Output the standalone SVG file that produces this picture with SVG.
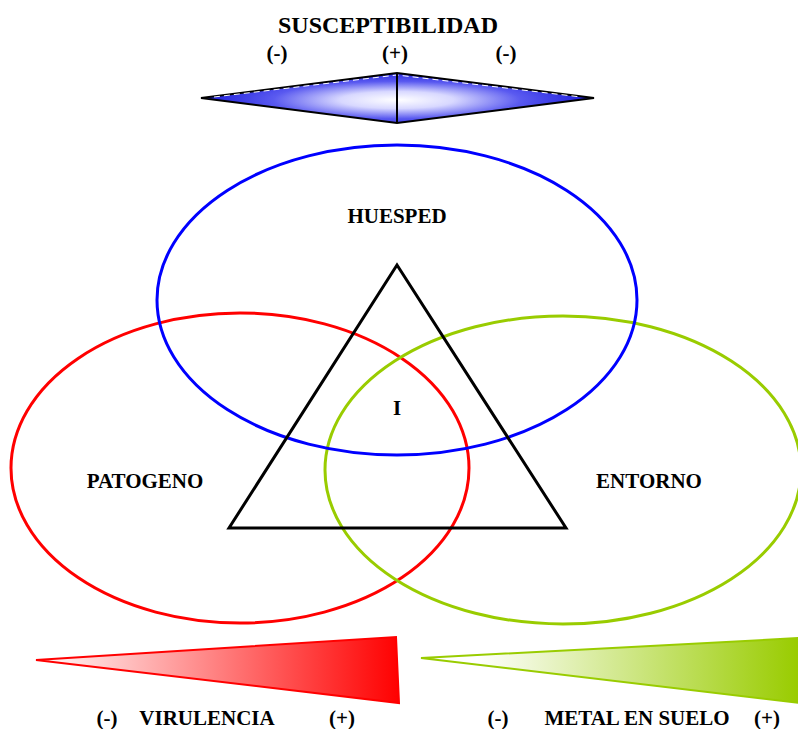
<svg xmlns="http://www.w3.org/2000/svg" width="798" height="729" viewBox="0 0 798 729">
<defs>
<radialGradient id="gBlue" cx="397" cy="100" r="190" gradientUnits="userSpaceOnUse" gradientTransform="translate(397 100) scale(1 0.15) translate(-397 -100)">
<stop offset="0" stop-color="#ffffff"/>
<stop offset="0.3" stop-color="#d8d8ff"/>
<stop offset="0.65" stop-color="#5a5af0"/>
<stop offset="1" stop-color="#2020dd"/>
</radialGradient>
<linearGradient id="gRed" x1="35" y1="0" x2="400" y2="0" gradientUnits="userSpaceOnUse">
<stop offset="0" stop-color="#ffffff"/>
<stop offset="1" stop-color="#ff0000"/>
</linearGradient>
<linearGradient id="gGreen" x1="420" y1="0" x2="798" y2="0" gradientUnits="userSpaceOnUse">
<stop offset="0" stop-color="#ffffff"/>
<stop offset="0.15" stop-color="#ffffff"/>
<stop offset="1" stop-color="#99cc00"/>
</linearGradient>
</defs>
<style>
text{font-family:"Liberation Serif","Times New Roman",serif;font-weight:bold;fill:#000;text-anchor:middle}
.t{font-size:21px}
.big{font-size:24px}
.ell{fill:none;stroke-width:3}
</style>
<rect width="798" height="729" fill="#ffffff"/>
<g id="susceptibilidad">
<text class="big" x="388" y="33">SUSCEPTIBILIDAD</text>
<text class="t" x="277" y="60">(-)</text>
<text class="t" x="395" y="60">(+)</text>
<text class="t" x="506" y="60">(-)</text>
<polygon points="201,98 397,73 594,98 397,123" fill="url(#gBlue)" stroke="#000" stroke-width="2"/>
<polyline points="214,97 397,75 581,97" fill="none" stroke="#ffffff" stroke-width="1" stroke-dasharray="6,4"/>
<line x1="397" y1="73" x2="397" y2="123" stroke="#000" stroke-width="2"/>
</g>
<g id="patogeno">
<ellipse class="ell" cx="240" cy="468" rx="229" ry="155" stroke="#ff0000"/>
<text class="t" x="145" y="488">PATOGENO</text>
</g>
<g id="entorno">
<ellipse class="ell" cx="563" cy="470" rx="238" ry="154" stroke="#99cc00"/>
<text class="t" x="649" y="488">ENTORNO</text>
</g>
<g id="huesped">
<ellipse class="ell" cx="397" cy="300" rx="240" ry="155" stroke="#0000ff"/>
<text class="t" x="397" y="223">HUESPED</text>
</g>
<g id="triangulo">
<polygon points="397,265 566,528 229,528" fill="none" stroke="#000" stroke-width="3"/>
<text class="t" x="397" y="415">I</text>
</g>
<g id="virulencia">
<polygon points="36,660 396,637 399,703" fill="url(#gRed)" stroke="#ff0000" stroke-width="2"/>
<text class="t" x="107" y="725">(-)</text>
<text class="t" x="207" y="725">VIRULENCIA</text>
<text class="t" x="342" y="725">(+)</text>
</g>
<g id="metal">
<polygon points="421,658 800,638 800,703" fill="url(#gGreen)" stroke="#99cc00" stroke-width="2"/>
<text class="t" x="498" y="725">(-)</text>
<text class="t" x="637" y="725">METAL EN SUELO</text>
<text class="t" x="767" y="725">(+)</text>
</g>
</svg>
